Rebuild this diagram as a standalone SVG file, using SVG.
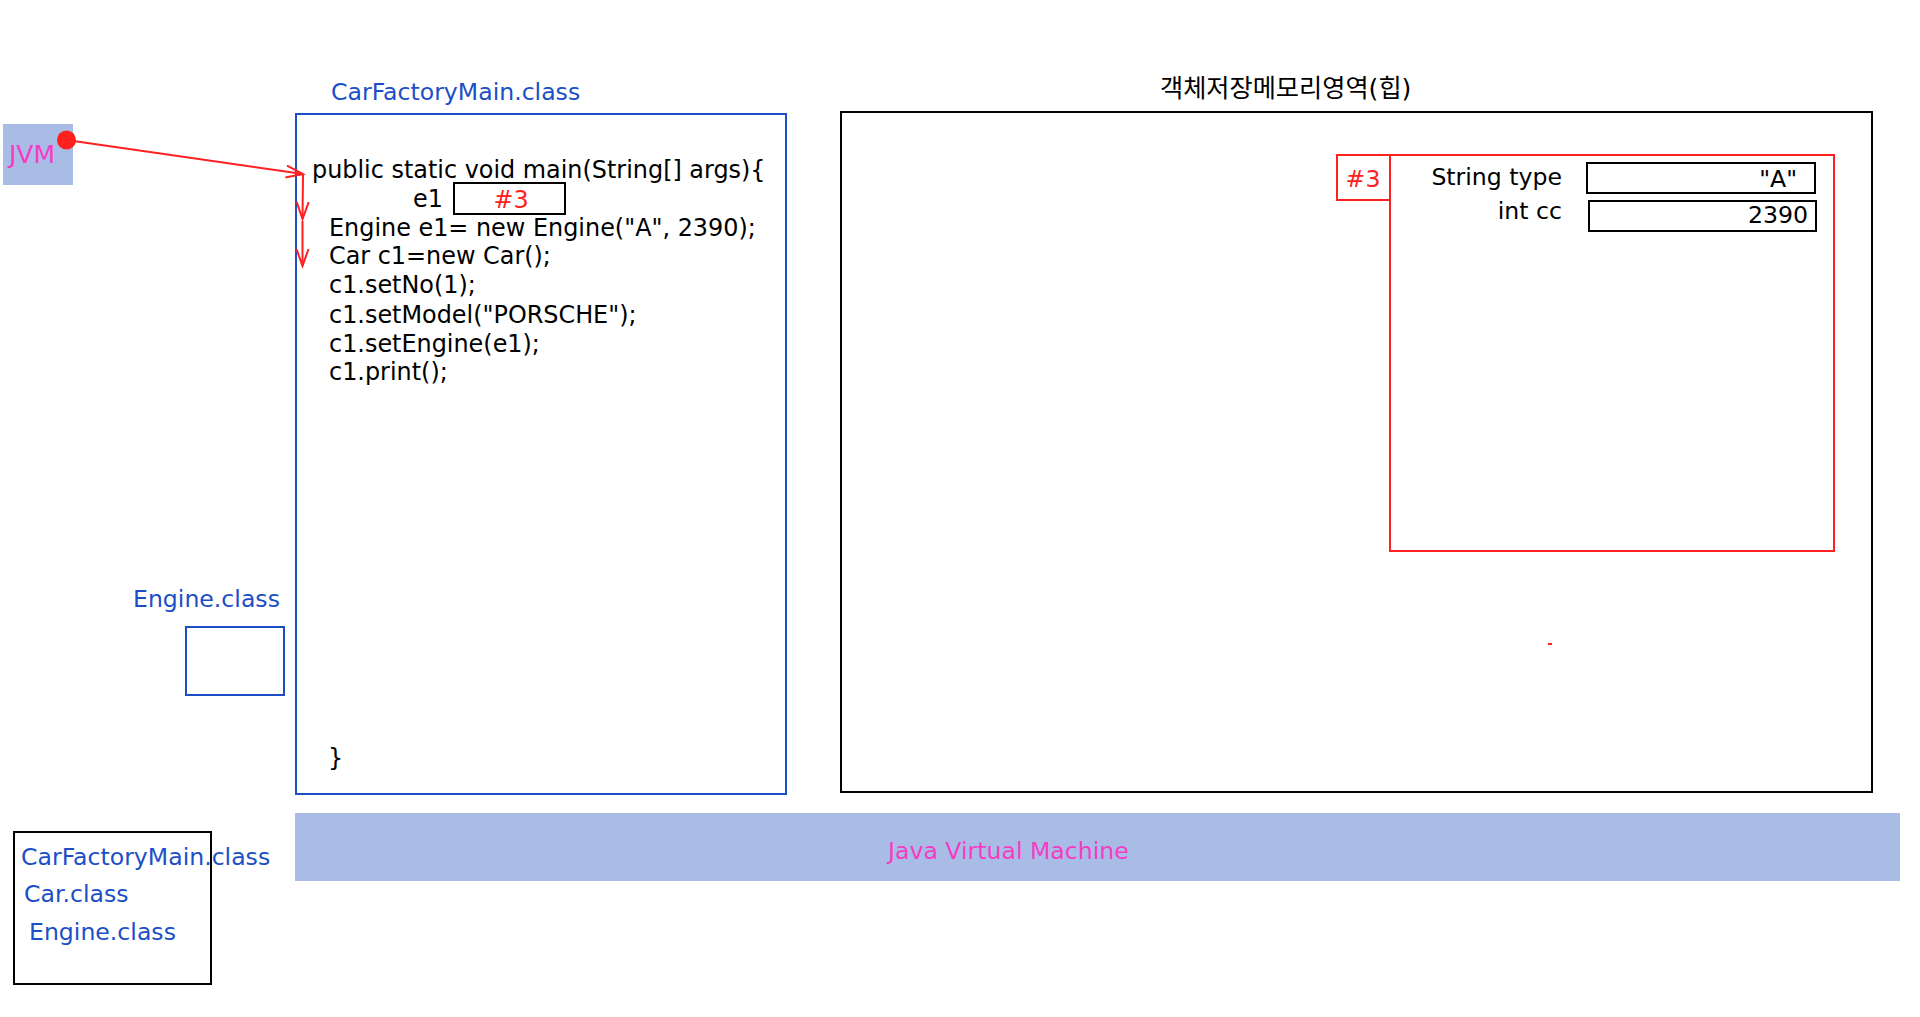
<svg xmlns="http://www.w3.org/2000/svg" width="1920" height="1017" viewBox="0 0 1920 1017">
<style>
text{font-family:"DejaVu Sans","Noto Sans CJK KR",sans-serif;font-size:23.6px;fill:#000}
.code{font-size:23.9px}
.blue{fill:#1c4fc6}
.mag{fill:#f43cc4}
.red{fill:#ff2020}
.bbox{fill:none;stroke:#1c4fc6;stroke-width:2}
.kbox{fill:none;stroke:#000;stroke-width:2}
.rbox{fill:none;stroke:#ff2020;stroke-width:2}
.conn{stroke:#ff2020;stroke-width:2;fill:none}
.jvmfill{fill:#a9bce6}
.r{text-anchor:end}
</style>
<defs>
<marker id="arr" markerUnits="userSpaceOnUse" markerWidth="20" markerHeight="14" refX="17" refY="6" orient="auto" overflow="visible">
<path d="M0,0 L17,6 L0,12" fill="none" stroke="#ff2020" stroke-width="2"/>
</marker>
</defs>
<rect width="1920" height="1017" fill="#fff"/>

<g id="jvm-node">
<rect class="jvmfill" x="3" y="124" width="70" height="61"/>
<text class="mag" x="9" y="163" style="font-size:25px">JVM</text>
</g>

<g id="main-class">
<text class="blue" x="331" y="100">CarFactoryMain.class</text>
<rect class="bbox" x="296" y="114" width="490" height="680"/>
<text class="code" x="312" y="178">public static void main(String[] args){</text>
<text class="code" x="413" y="207">e1</text>
<rect class="kbox" x="454" y="183" width="111" height="31"/>
<text class="red code" x="511" y="208" text-anchor="middle">#3</text>
<text class="code" x="329" y="236">Engine e1= new Engine("A", 2390);</text>
<text class="code" x="329" y="264">Car c1=new Car();</text>
<text class="code" x="329" y="293">c1.setNo(1);</text>
<text class="code" x="329" y="323">c1.setModel("PORSCHE");</text>
<text class="code" x="329" y="352">c1.setEngine(e1);</text>
<text class="code" x="329" y="380">c1.print();</text>
<text class="code" x="328" y="766">}</text>
</g>

<g id="heap">
<text x="1160" y="97" style="font-size:25.2px">객체저장메모리영역(힙)</text>
<rect class="kbox" x="841" y="112" width="1031" height="680"/>
<rect x="1548" y="643" width="4" height="2" fill="#ff2020"/>
</g>

<g id="engine-object">
<rect class="rbox" x="1337" y="155" width="53" height="45"/>
<text class="red" x="1363" y="187" text-anchor="middle">#3</text>
<rect class="rbox" x="1390" y="155" width="444" height="396"/>
<text class="r" x="1562" y="185">String type</text>
<text class="r" x="1562" y="219">int cc</text>
<rect class="kbox" x="1587" y="163" width="228" height="30"/>
<text class="r" x="1797" y="187">"A"</text>
<rect class="kbox" x="1589" y="201" width="227" height="30"/>
<text class="r" x="1808" y="223">2390</text>
</g>

<g id="engine-class">
<text class="blue" x="133" y="607">Engine.class</text>
<rect class="bbox" x="186" y="627" width="98" height="68"/>
</g>

<g id="class-list">
<rect class="kbox" x="14" y="832" width="197" height="152"/>
<text class="blue" x="21" y="865">CarFactoryMain.class</text>
<text class="blue" x="24" y="902">Car.class</text>
<text class="blue" x="29" y="940">Engine.class</text>
</g>

<g id="jvm-bar">
<rect class="jvmfill" x="295" y="813" width="1605" height="68"/>
<text class="mag" x="888" y="859">Java Virtual Machine</text>
</g>

<g id="connectors">
<circle cx="66.5" cy="140" r="9.5" fill="#ff2020"/>
<line class="conn" x1="66.5" y1="140" x2="303" y2="174" marker-end="url(#arr)"/>
<line class="conn" x1="303" y1="174" x2="302.5" y2="219" marker-end="url(#arr)"/>
<line class="conn" x1="302.5" y1="221" x2="302.5" y2="266" marker-end="url(#arr)"/>
</g>
</svg>
